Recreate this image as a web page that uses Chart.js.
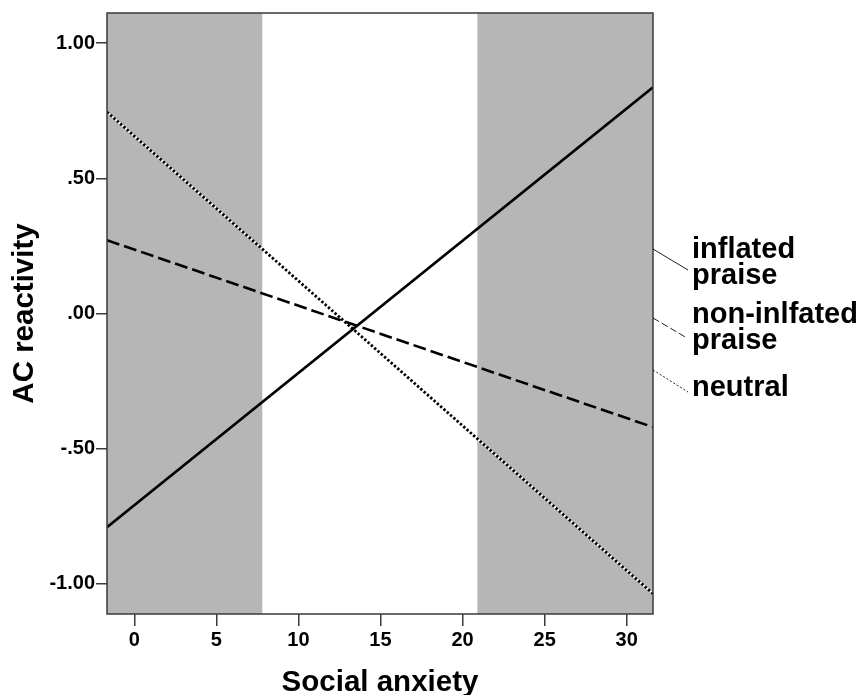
<!DOCTYPE html>
<html>
<head>
<meta charset="utf-8">
<script src="https://cdn.jsdelivr.net/npm/chart.js@4.4.1/dist/chart.umd.min.js"></script>
<style>
  html, body { margin: 0; padding: 0; background: #fff; }
  canvas { display: block; }
</style>
</head>
<body>
<canvas id="chart" width="864" height="695"></canvas>
<script>
const anxietyRange = [-1.66, 31.6];
const inflatedPraise = [-0.79, 0.836];
const nonInflatedPraise = [0.271, -0.42];
const neutralFeedback = [0.745, -1.036];

const xTickValues = [0, 5, 10, 15, 20, 25, 30];
const yTickValues = [-1, -0.5, 0, 0.5, 1];
const yTickLabels = ['-1.00', '-.50', '.00', '.50', '1.00'];

// grey = outside the white band in the middle
const shadedBands = [[-1.66, 7.8], [20.9, 31.6]];

const legendLabels = [['inflated', 'praise'], ['non-inlfated', 'praise'], ['neutral']];

const tickFont = { family: "'Liberation Sans', Arial, sans-serif", size: 20, weight: 'bold' };
const titleFont = { family: "'Liberation Sans', Arial, sans-serif", size: 29.5, weight: 'bold' };

function toPoints(ys) {
  return anxietyRange.map((x, i) => ({ x, y: ys[i] }));
}

const shadingPlugin = {
  id: 'shading',
  beforeDatasetsDraw(chart) {
    const { ctx, chartArea, scales: { x } } = chart;
    ctx.save();
    ctx.fillStyle = '#b6b6b6';
    shadedBands.forEach(([from, to]) => {
      const left = x.getPixelForValue(from);
      const right = x.getPixelForValue(to);
      ctx.fillRect(left, chartArea.top, right - left, chartArea.bottom - chartArea.top);
    });
    ctx.restore();
  },
  afterDatasetsDraw(chart) {
    const { ctx, chartArea } = chart;
    ctx.save();
    ctx.strokeStyle = '#3a3a3a';
    ctx.lineWidth = 1.5;
    ctx.strokeRect(chartArea.left, chartArea.top, chartArea.right - chartArea.left, chartArea.bottom - chartArea.top);
    ctx.restore();
  },
};

const sideLegendPlugin = {
  id: 'sideLegend',
  afterDraw(chart) {
    const { ctx, chartArea } = chart;
    const entries = [
      { dash: [], from: 249, to: [688, 270], baselines: [258, 283.5] },
      { dash: [7, 3], from: 318, to: [687, 338], baselines: [323, 349] },
      { dash: [2, 2], from: 370, to: [688, 392], baselines: [396] },
    ];
    ctx.save();
    ctx.fillStyle = '#000';
    ctx.strokeStyle = '#222';
    ctx.lineWidth = 1;
    ctx.font = `bold 29px ${titleFont.family}`;
    ctx.textBaseline = 'alphabetic';
    entries.forEach((entry, i) => {
      ctx.setLineDash(entry.dash);
      ctx.beginPath();
      ctx.moveTo(chartArea.right, entry.from);
      ctx.lineTo(entry.to[0], entry.to[1]);
      ctx.stroke();
      legendLabels[i].forEach((line, j) => ctx.fillText(line, 692, entry.baselines[j]));
    });
    ctx.restore();
  },
};

new Chart(document.getElementById('chart'), {
  type: 'scatter',
  data: {
    datasets: [
      {
        label: 'inflated praise',
        data: toPoints(inflatedPraise),
        showLine: true,
        borderColor: '#000',
        borderWidth: 2.6,
        pointRadius: 0,
      },
      {
        label: 'non-inlfated praise',
        data: toPoints(nonInflatedPraise),
        showLine: true,
        borderColor: '#000',
        borderWidth: 2.6,
        borderDash: [13, 5],
        pointRadius: 0,
      },
      {
        label: 'neutral',
        data: toPoints(neutralFeedback),
        showLine: true,
        borderColor: '#000',
        borderWidth: 2.8,
        borderDash: [2.4, 2],
        pointRadius: 0,
      },
      {
        // white underlay (drawn first) so the dots sit on white on the grey
        label: 'neutral-bg',
        data: toPoints(neutralFeedback),
        showLine: true,
        borderColor: '#fff',
        borderWidth: 2.2,
        pointRadius: 0,
      },
    ],
  },
  options: {
    responsive: false,
    animation: false,
    layout: { padding: { left: 0, right: 211, top: 12.7, bottom: 0 } },
    plugins: {
      legend: { display: false },
      tooltip: { enabled: false },
    },
    scales: {
      x: {
        type: 'linear',
        min: anxietyRange[0],
        max: anxietyRange[1],
        afterBuildTicks: (scale) => { scale.ticks = xTickValues.map((value) => ({ value })); },
        afterFit: (scale) => { scale.height = 81; },
        border: { display: false },
        grid: { drawOnChartArea: false, drawTicks: true, tickLength: 12, tickColor: '#3a3a3a', lineWidth: 1.5 },
        ticks: { color: '#000', font: tickFont, padding: 2, maxRotation: 0, autoSkip: false },
        title: { display: true, text: 'Social anxiety', color: '#000', font: { ...titleFont, lineHeight: 0.8 }, padding: 0 },
      },
      y: {
        type: 'linear',
        min: -1.111,
        max: 1.111,
        afterBuildTicks: (scale) => { scale.ticks = yTickValues.map((value) => ({ value })); },
        afterFit: (scale) => { scale.width = 107; },
        border: { display: false },
        grid: { drawOnChartArea: false, drawTicks: true, tickLength: 11, tickColor: '#3a3a3a', lineWidth: 1.5 },
        ticks: {
          color: '#000',
          font: tickFont,
          padding: 1,
          autoSkip: false,
          callback: (value) => yTickLabels[yTickValues.indexOf(value)],
        },
        title: { display: true, text: 'AC reactivity', color: '#000', font: titleFont, padding: { top: 7, bottom: 0 } },
      },
    },
  },
  plugins: [shadingPlugin, sideLegendPlugin],
});
</script>
</body>
</html>
